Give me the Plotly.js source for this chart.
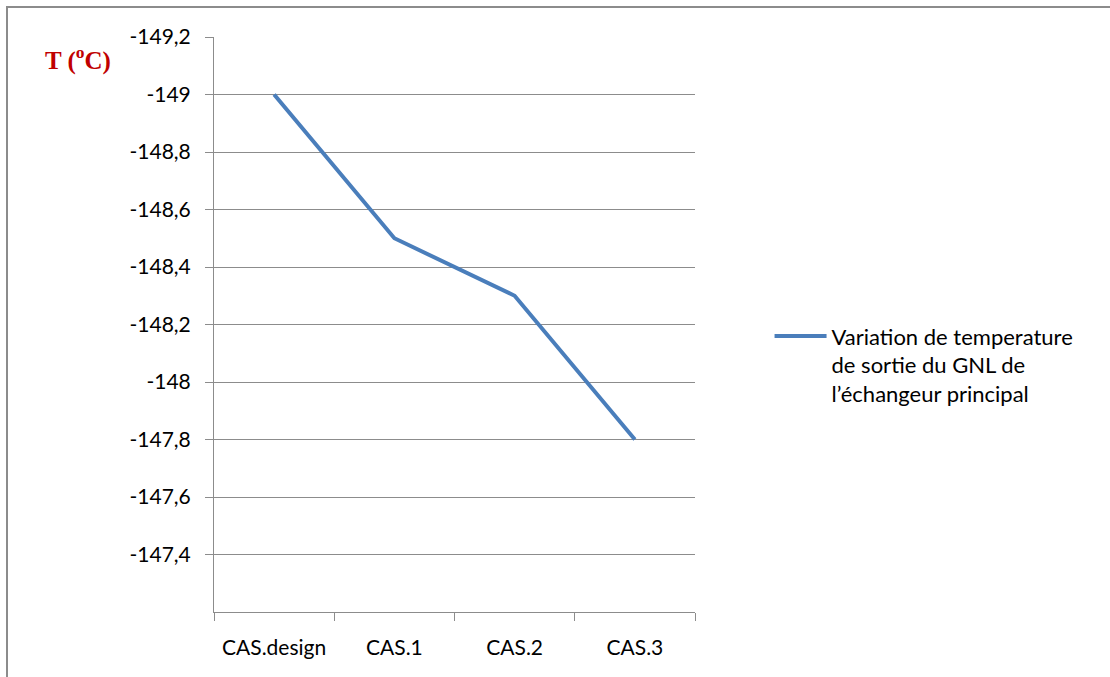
<!DOCTYPE html>
<html><head><meta charset="utf-8">
<script src="https://cdn.plot.ly/plotly-3.0.1.min.js"></script>
<style>
body{margin:0;padding:0;background:#fff;}
#chart{width:1110px;height:677px;position:absolute;left:0;top:0;}
#chart text{font-variant-ligatures:none;}
#frame{position:absolute;left:6px;top:6px;width:1110px;height:680px;border-top:2px solid #8c8c8c;border-left:2px solid #8c8c8c;pointer-events:none;}
</style></head>
<body>
<div id="chart"></div>
<div id="frame"></div>
<script>
const categories = ["CAS.design", "CAS.1", "CAS.2", "CAS.3"];
const temperatures = [-149, -148.5, -148.3, -147.8];
const tickValues = [-149.2, -149, -148.8, -148.6, -148.4, -148.2, -148, -147.8, -147.6, -147.4];
const tickLabels = ["-149,2", "-149", "-148,8", "-148,6", "-148,4", "-148,2", "-148", "-147,8", "-147,6", "-147,4"];
const seriesName = "Variation de temperature<br>de sortie du GNL de<br>l’échangeur principal";

const font = {family: "Lato, 'Open Sans', sans-serif", size: 21, color: "#000"};
const legendFont = {family: "Lato, 'Open Sans', sans-serif", size: 22, color: "#000"};

Plotly.newPlot("chart", [{
  x: categories, y: temperatures, type: "scatter", mode: "lines",
  name: seriesName,
  line: {color: "#4a7ebb", width: 4}
}], {
  width: 1110, height: 677,
  margin: {l: 214, r: 415, t: 37, b: 65},
  paper_bgcolor: "#fff", plot_bgcolor: "#fff",
  font: font,
  showlegend: true,
  legend: {x: 1.155, y: 0.43, xanchor: "left", yanchor: "middle", valign: "top", font: legendFont, itemwidth: 52, tracegroupgap: 0},
  xaxis: {
    type: "category", tickson: "boundaries", ticks: "outside", ticklen: 8, tickcolor: "#8c8c8c",
    showline: true, linecolor: "#8c8c8c", linewidth: 1, showgrid: false, zeroline: false,
    tickfont: font, range: [-0.5, 3.5], ticklabelstandoff: 17
  },
  yaxis: {
    range: [-147.2, -149.2], tickmode: "array", tickvals: tickValues, ticktext: tickLabels,
    ticks: "outside", ticklen: 8, tickcolor: "#8c8c8c",
    showline: true, linecolor: "#8c8c8c", linewidth: 1,
    showgrid: true, gridcolor: "#8c8c8c", gridwidth: 1, zeroline: false,
    tickfont: font, ticklabelstandoff: 10
  },
  annotations: [{
    text: "<b>T (<sup>o</sup>C)</b>", xref: "paper", yref: "paper",
    x: -0.283, y: 0.962, xanchor: "center", yanchor: "middle", showarrow: false,
    font: {family: "'Liberation Serif', 'Times New Roman', serif", size: 25, color: "#c00000"}
  }]
}, {displayModeBar: false});
</script>
</body></html>
